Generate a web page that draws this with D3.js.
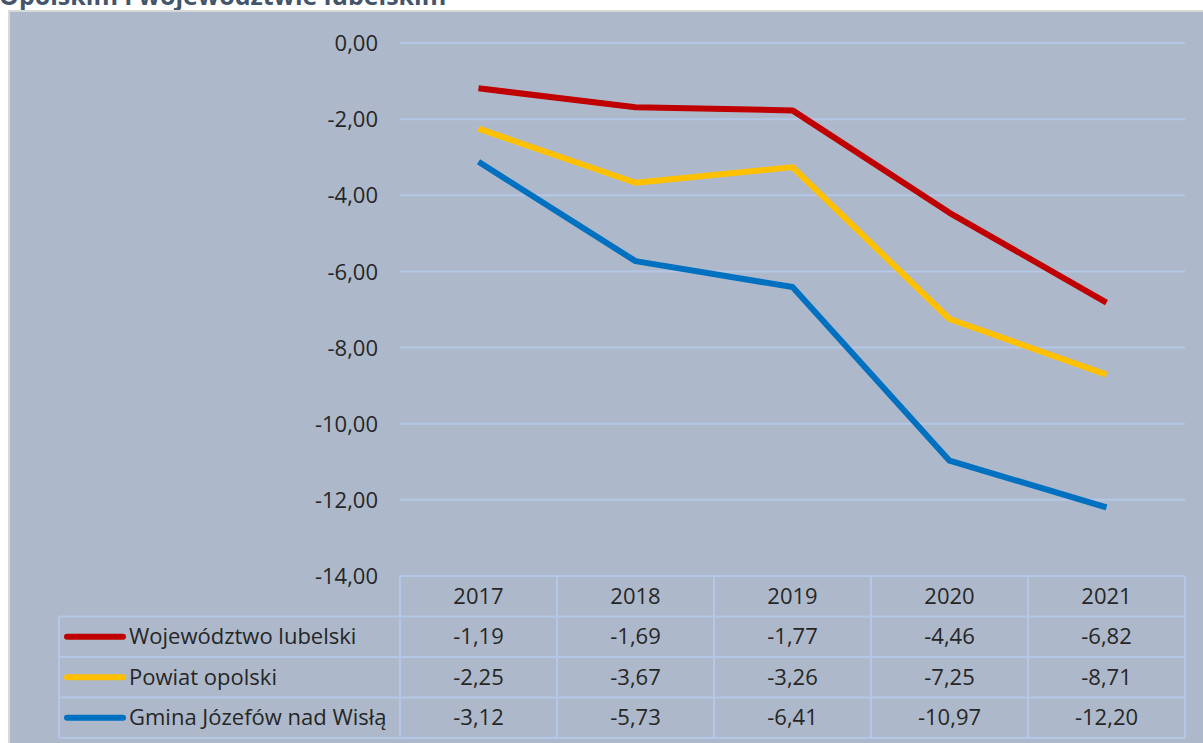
<!DOCTYPE html>
<html><head><meta charset="utf-8">
<script src="https://cdn.jsdelivr.net/npm/d3@7"></script>
<style>
html,body{margin:0;padding:0;background:#fff;}
svg{display:block;}
text{font-family:"Open Sans",sans-serif;fill:#262626;}
</style></head>
<body>
<svg id="c" width="1203" height="743"></svg>
<script>
const titleText = "Opolskim i województwie lubelskim";
const years = ["2017","2018","2019","2020","2021"];
const seriesNames = ["Województwo lubelski","Powiat opolski","Gmina Józefów nad Wisłą"];
const seriesColors = ["#c00000","#ffc000","#0070c0"];
const wojewodztwo = [-1.19,-1.69,-1.77,-4.46,-6.82];
const powiat = [-2.25,-3.67,-3.26,-7.25,-8.71];
const gmina = [-3.12,-5.73,-6.41,-10.97,-12.20];
const yTicks = [0,-2,-4,-6,-8,-10,-12,-14];

const seriesValues = [wojewodztwo, powiat, gmina];
const fmt = v => d3.format(".2f")(v).replace(".", ",").replace("−","-");
const FS = "22px";

const svg = d3.select("#c");
const W = 1203, H = 743;

// title (cut off at top as in the reference)
svg.append("text").attr("x", -1).attr("y", 5)
  .style("font-weight","bold").style("font-size","25px").style("fill","#44546a")
  .text(titleText);

// chart frame
svg.append("rect").attr("x", 8).attr("y", 10).attr("width", W-8).attr("height", H-10).attr("fill", "#d9d9d9");
svg.append("rect").attr("x", 10).attr("y", 12).attr("width", W-10).attr("height", H-12).attr("fill", "#adb9ca");

const plotL = 400, plotR = 1185, plotT = 43, plotB = 576;
const x = d3.scaleBand().domain(years).range([plotL, plotR]);
const y = d3.scaleLinear().domain([-14, 0]).range([plotB, plotT]);
const gridColor = "#b4c7e7";

// gridlines
svg.append("g").selectAll("line").data(yTicks).join("line")
  .attr("x1", plotL).attr("x2", plotR)
  .attr("y1", d => y(d)).attr("y2", d => y(d))
  .attr("stroke", gridColor).attr("stroke-width", 2);

// y axis labels
const yAxis = d3.axisLeft(y).tickValues(yTicks).tickFormat(fmt).tickSize(0).tickPadding(0);
const ya = svg.append("g").attr("transform", `translate(378,0)`).call(yAxis);
ya.select(".domain").remove();
ya.selectAll("text").style("font-size",FS).style("fill","#262626").style("font-family","'Open Sans',sans-serif").attr("dy","0.35em");

// lines
const line = d3.line().x((d,i) => x(years[i]) + x.bandwidth()/2).y(d => y(d));
svg.append("g").selectAll("path").data(seriesValues).join("path")
  .attr("d", d => line(d)).attr("fill","none")
  .attr("stroke", (d,i) => seriesColors[i]).attr("stroke-width", 6).attr("stroke-linejoin","round");

// data table
const rowH = 40.5;
const tTop = plotB;
const legL = 59;
const tg = svg.append("g");
const nRows = seriesNames.length;
tg.append("line").attr("x1", plotL).attr("x2", plotR).attr("y1", tTop).attr("y2", tTop).attr("stroke", gridColor).attr("stroke-width", 2);
for (let r = 1; r <= nRows + 1; r++) {
  tg.append("line").attr("x1", legL).attr("x2", plotR).attr("y1", tTop + r*rowH).attr("y2", tTop + r*rowH).attr("stroke", gridColor).attr("stroke-width", 2);
}
const colEdges = years.map(yr => x(yr)).concat([plotR]);
colEdges.forEach(cx => {
  tg.append("line").attr("x1", cx).attr("x2", cx).attr("y1", tTop).attr("y2", tTop + (nRows+1)*rowH).attr("stroke", gridColor).attr("stroke-width", 2);
});
tg.append("line").attr("x1", legL).attr("x2", legL).attr("y1", tTop + rowH).attr("y2", tTop + (nRows+1)*rowH).attr("stroke", gridColor).attr("stroke-width", 2);

tg.selectAll("text.hdr").data(years).join("text").attr("class","hdr")
  .attr("x", d => x(d) + x.bandwidth()/2).attr("y", tTop + rowH/2).attr("dy","0.35em")
  .attr("text-anchor","middle").style("font-size",FS).text(d => d);

seriesNames.forEach((name, r) => {
  const cy = tTop + (r+1)*rowH + rowH/2;
  tg.append("line").attr("x1", 67).attr("x2", 123).attr("y1", cy).attr("y2", cy)
    .attr("stroke", seriesColors[r]).attr("stroke-width", 6).attr("stroke-linecap","round");
  tg.append("text").attr("x", 129).attr("y", cy).attr("dy","0.35em").style("font-size",FS).text(name);
  tg.selectAll("text.v"+r).data(seriesValues[r]).join("text").attr("class","v"+r)
    .attr("x", (d,i) => x(years[i]) + x.bandwidth()/2).attr("y", cy).attr("dy","0.35em")
    .attr("text-anchor","middle").style("font-size",FS).text(d => fmt(d));
});
</script>
</body></html>
